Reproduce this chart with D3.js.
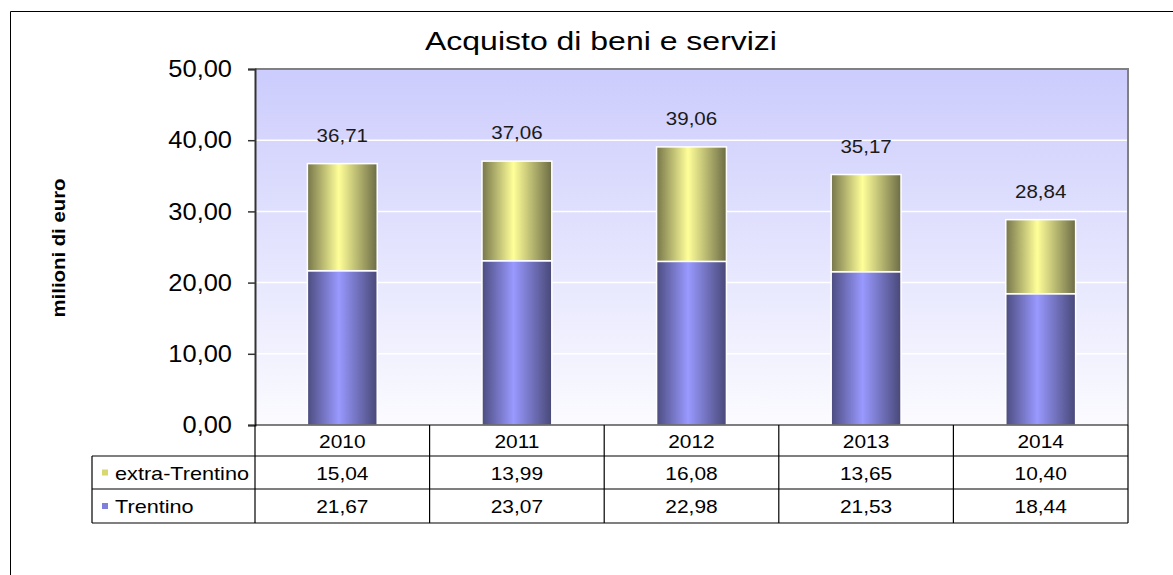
<!DOCTYPE html>
<html><head><meta charset="utf-8">
<script src="https://cdn.jsdelivr.net/npm/d3@7"></script>
<style>
html,body{margin:0;padding:0;background:#fff;overflow:hidden;}
svg{display:block;font-family:"Liberation Sans",Arial,sans-serif;}
</style></head>
<body>
<svg id="chart" width="1173" height="575"></svg>
<script>
const years = ["2010","2011","2012","2013","2014"];
const trentino = [21.67, 23.07, 22.98, 21.53, 18.44];
const extraTrentino = [15.04, 13.99, 16.08, 13.65, 10.40];
const totals = [36.71, 37.06, 39.06, 35.17, 28.84];
const yTicks = [0, 10, 20, 30, 40, 50];
const seriesNames = ["extra-Trentino", "Trentino"];

const fmt = v => v.toFixed(2).replace(".", ",");
const svg = d3.select("#chart");
const defs = svg.append("defs");

const L = 255, R = 1128, T = 69, B = 425;
const rowH = [425, 456, 489, 523];
const tableLeft = 92;

const x = d3.scaleBand().domain(years).range([L, R]).paddingInner(0.6).paddingOuter(0.3);
const xc = d3.scaleBand().domain(years).range([L, R]);
const y = d3.scaleLinear().domain([0, 50]).range([B, T]);

// stretch text horizontally (reference rendering is wider than Arial metrics)
function stretch(sel, f){
  sel.each(function(){
    const w = this.getComputedTextLength();
    d3.select(this).attr("textLength", w*f).attr("lengthAdjust","spacingAndGlyphs");
  });
}

// gradients
const bg = defs.append("linearGradient").attr("id","bg").attr("x1",0).attr("y1",0).attr("x2",0).attr("y2",1);
bg.append("stop").attr("offset",0).attr("stop-color","#ccccfd");
bg.append("stop").attr("offset",1).attr("stop-color","#fbfbff");
function hgrad(id, edgeL, mid, edgeR){
  const g = defs.append("linearGradient").attr("id",id).attr("x1",0).attr("y1",0).attr("x2",1).attr("y2",0);
  g.append("stop").attr("offset",0).attr("stop-color",edgeL);
  g.append("stop").attr("offset",0.45).attr("stop-color",mid);
  g.append("stop").attr("offset",1).attr("stop-color",edgeR);
}
hgrad("gy","#76764b","#ffff99","#6c6c46");
hgrad("gb","#4c4c80","#9999ff","#484878");

// outer frame (cropped at right and bottom)
svg.append("path").attr("d","M10.5,575V11.5H1173").attr("fill","none").attr("stroke","#000").attr("stroke-width",1);

// plot background
svg.append("rect").attr("x",L).attr("y",T).attr("width",R-L).attr("height",B-T).attr("fill","url(#bg)");

// grid
svg.append("g").selectAll("line").data(yTicks.filter(d => d > 0 && d < 50)).join("line")
  .attr("x1",L).attr("x2",R).attr("y1",d=>y(d)).attr("y2",d=>y(d))
  .attr("stroke","#ffffff").attr("stroke-width",1.5);

// plot border top/right
svg.append("path").attr("d",`M${L},${T}H${R}V${B}`).attr("fill","none").attr("stroke","#808080").attr("stroke-width",2);

// bars
const stackData = years.map((yr,i)=>({yr, t:trentino[i], e:extraTrentino[i]}));
const bars = svg.append("g");
bars.selectAll("rect.b").data(stackData).join("rect").attr("class","b")
  .attr("x",d=>x(d.yr)).attr("width",x.bandwidth())
  .attr("y",d=>y(d.t)).attr("height",d=>y(0)-y(d.t))
  .attr("fill","url(#gb)").attr("stroke","#fff").attr("stroke-width",1.5);
bars.selectAll("rect.e").data(stackData).join("rect").attr("class","e")
  .attr("x",d=>x(d.yr)).attr("width",x.bandwidth())
  .attr("y",d=>y(d.t+d.e)).attr("height",d=>y(d.t)-y(d.t+d.e))
  .attr("fill","url(#gy)").attr("stroke","#fff").attr("stroke-width",1.5);

// total labels
const tl = svg.append("g").selectAll("text").data(years).join("text")
  .attr("x",d=>x(d)+x.bandwidth()/2).attr("y",(d,i)=>y(totals[i])-22)
  .attr("text-anchor","middle").attr("font-size",19).attr("fill","#1a1a1a")
  .text((d,i)=>fmt(totals[i]));
stretch(tl, 1.08);

// y axis
const yAxis = d3.axisLeft(y).tickValues(yTicks).tickSize(7).tickPadding(16).tickFormat(fmt);
const ga = svg.append("g").attr("transform",`translate(${L},0)`).call(yAxis);
ga.select(".domain").attr("stroke","#333").attr("stroke-width",2);
ga.selectAll(".tick line").attr("stroke","#333").attr("stroke-width",1.5);
const tt = ga.selectAll(".tick text").attr("font-size",24).attr("fill","#000").attr("font-family","Liberation Sans, Arial, sans-serif");
stretch(tt, 1.06);

// y label
const yl = svg.append("text").attr("transform","translate(65,248) rotate(-90)")
  .attr("text-anchor","middle").attr("font-size",18).attr("font-weight","bold").text("milioni di euro");
stretch(yl, 1.13);

// title
const ti = svg.append("text").attr("x",601).attr("y",50).attr("text-anchor","middle")
  .attr("font-size",26).attr("fill","#000").text("Acquisto di beni e servizi");
stretch(ti, 1.23);

// data table
const tg = svg.append("g");
const lines = [];
lines.push([L, rowH[0], R, rowH[0]]);
lines.push([L, rowH[0], L, rowH[1]]);
lines.push([tableLeft, rowH[1], R, rowH[1]]);
lines.push([tableLeft, rowH[2], R, rowH[2]]);
lines.push([tableLeft, rowH[3], R, rowH[3]]);
lines.push([tableLeft, rowH[1], tableLeft, rowH[3]]);
lines.push([L, rowH[1], L, rowH[3]]);
years.forEach(yr => lines.push([xc(yr)+xc.bandwidth(), rowH[0], xc(yr)+xc.bandwidth(), rowH[3]]));
tg.selectAll("line").data(lines).join("line")
  .attr("x1",d=>d[0]).attr("y1",d=>d[1]).attr("x2",d=>d[2]).attr("y2",d=>d[3])
  .attr("stroke","#000").attr("stroke-width",1.2);

const rowMid = i => (rowH[i]+rowH[i+1])/2;
const yrT = tg.selectAll("text.yr").data(years).join("text").attr("class","yr")
  .attr("x",d=>xc(d)+xc.bandwidth()/2).attr("y",rowMid(0)+7)
  .attr("text-anchor","middle").attr("font-size",19).text(d=>d);
stretch(yrT, 1.1);
const rows = [extraTrentino, trentino];
rows.forEach((vals, r) => {
  const vt = tg.selectAll("text.v"+r).data(vals).join("text").attr("class","v"+r)
    .attr("x",(d,i)=>xc(years[i])+xc.bandwidth()/2).attr("y",rowMid(r+1)+7)
    .attr("text-anchor","middle").attr("font-size",19).text(d=>fmt(d));
  stretch(vt, 1.1);
});
const keyCols = ["#d8d870","#7f7fdc"];
seriesNames.forEach((n, r) => {
  tg.append("rect").attr("x",102).attr("y",rowMid(r+1)-3).attr("width",6).attr("height",6).attr("fill",keyCols[r]);
  const lt = tg.append("text").attr("x",115).attr("y",rowMid(r+1)+7).attr("font-size",19).text(n);
  stretch(lt, 1.14);
});
</script>
</body></html>
